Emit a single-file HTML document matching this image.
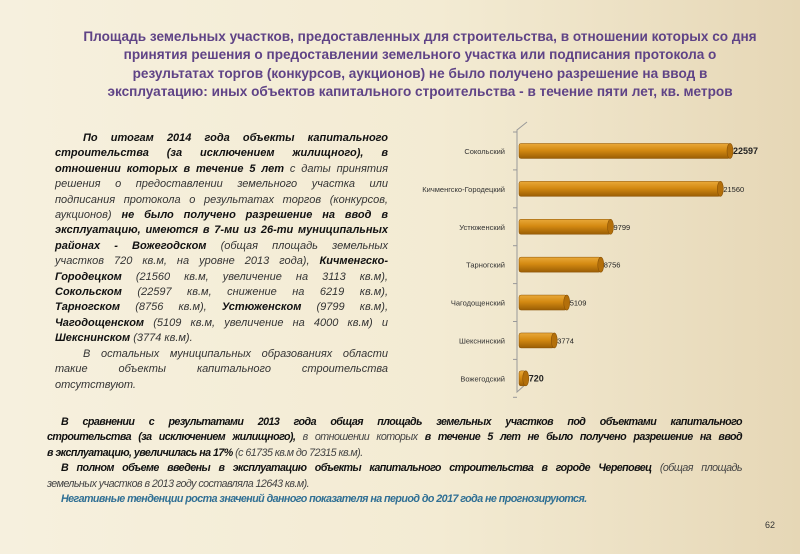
<!DOCTYPE html>
<html><head><meta charset="utf-8">
<style>
html,body{margin:0;padding:0}
body{width:800px;height:554px;overflow:hidden;position:relative;font-family:"Liberation Sans",sans-serif;
background:linear-gradient(90deg,#f6f0de 0%,#f3ebd3 55%,#e6d7b6 100%);}
.title{position:absolute;left:40px;top:28px;width:760px;text-align:center;color:#5f4386;font-weight:bold;font-size:13.6px;line-height:18.3px;letter-spacing:0px;white-space:nowrap}
.left{position:absolute;left:55px;top:131px;width:333px;font-size:11px;line-height:15.4px;font-style:italic;color:#333}
.left div,.bottom div{text-align:justify;text-align-last:justify;white-space:nowrap}
.left div.nl,.bottom div.nl{text-align-last:left}
.left b{color:#111}
.ind{padding-left:28px}
.bottom{position:absolute;left:47px;top:415px;width:695px;font-size:10.7px;line-height:15.4px;font-style:italic;color:#444;letter-spacing:-0.55px}
.bottom b{color:#111}
.neg{color:#2f6f94;font-weight:bold}
.page{position:absolute;left:765px;top:520px;font-size:9px;color:#333}
</style></head><body>
<div class="title">Площадь земельных участков, предоставленных для строительства, в отношении которых со дня<br>принятия решения о предоставлении земельного участка или подписания протокола о<br>результатах торгов (конкурсов, аукционов) не было получено разрешение на ввод в<br>эксплуатацию: иных объектов капитального строительства - в течение пяти лет, кв. метров</div>
<div class="left">
<div class="ind"><b>По итогам 2014 года объекты капитального</b></div>
<div><b>строительства (за исключением жилищного), в</b></div>
<div><b>отношении которых в течение 5 лет</b> с даты принятия</div>
<div>решения о предоставлении земельного участка или</div>
<div>подписания протокола о результатах торгов (конкурсов,</div>
<div>аукционов) <b>не было получено разрешение на ввод в</b></div>
<div><b>эксплуатацию, имеются в 7-ми из 26-ти муниципальных</b></div>
<div><b>районах - Вожегодском</b> (общая площадь земельных</div>
<div>участков 720 кв.м, на уровне 2013 года), <b>Кичменгско-</b></div>
<div><b>Городецком</b> (21560 кв.м, увеличение на 3113 кв.м),</div>
<div><b>Сокольском</b> (22597 кв.м, снижение на 6219 кв.м),</div>
<div><b>Тарногском</b> (8756 кв.м), <b>Устюженском</b> (9799 кв.м),</div>
<div><b>Чагодощенском</b> (5109 кв.м, увеличение на 4000 кв.м) и</div>
<div class="nl"><b>Шекснинском</b> (3774 кв.м).</div>
<div class="ind">В остальных муниципальных образованиях области</div>
<div>такие объекты капитального строительства</div>
<div class="nl">отсутствуют.</div>
</div>
<svg id="chart" style="position:absolute;left:0;top:0" width="800" height="554"></svg>
<div class="bottom">
<div class="ind" style="padding-left:14px"><b>В сравнении с результатами 2013 года общая площадь земельных участков под объектами капитального</b></div>
<div><b>строительства (за исключением жилищного),</b> в отношении которых <b>в течение 5 лет не было получено разрешение на ввод</b></div>
<div class="nl"><b>в эксплуатацию, увеличилась на 17%</b> (с 61735 кв.м до 72315 кв.м).</div>
<div style="padding-left:14px"><b>В полном объеме введены в эксплуатацию объекты капитального строительства в городе Череповец</b> (общая площадь</div>
<div class="nl">земельных участков в 2013 году составляла 12643 кв.м).</div>
<div class="nl" style="padding-left:14px"><span class="neg">Негативные тенденции роста значений данного показателя на период до 2017 года не прогнозируются.</span></div>
</div>
<div class="page">62</div>
<script>
const categories=["Сокольский","Кичменгско-Городецкий","Устюженский","Тарногский","Чагодощенский","Шекснинский","Вожегодский"];
const values=[22597,21560,9799,8756,5109,3774,720];
const bold=[true,false,false,false,false,false,true];
const svg=document.getElementById('chart');
const NS='http://www.w3.org/2000/svg';
const x0=519,xMax=22597,wMax=211;
const x=v=>x0+v/xMax*wMax;
const yTop=132,step=37.9;
const y=i=>yTop+step*i+step/2;
function mk(t,a){const e=document.createElementNS(NS,t);for(const k in a)e.setAttribute(k,a[k]);svg.appendChild(e);return e;}
const defs=mk('defs',{});
defs.innerHTML='<linearGradient id="bg" x1="0" y1="0" x2="0" y2="1"><stop offset="0" stop-color="#e9a93a"/><stop offset="0.45" stop-color="#d48a12"/><stop offset="1" stop-color="#9a5e05"/></linearGradient>';
const ax=mk('polyline',{points:"527,122 517,130 517,392 526,384",fill:"none",stroke:"#999","stroke-width":"1"});

for(let i=0;i<=categories.length;i++){const t=mk('line',{x1:513,x2:517,y1:yTop+step*i,y2:yTop+step*i,stroke:"#999"});
}
categories.forEach((c,i)=>{
 const cy=y(i),h=15,xe=x(values[i]);
 const b=mk('rect',{x:x0,y:cy-h/2,width:xe-x0,height:h,rx:2,fill:"url(#bg)",stroke:"#8a5206","stroke-width":"0.5"});
 
 const cap=mk('ellipse',{cx:xe,cy:cy,rx:3,ry:h/2,fill:"#b36f0a",stroke:"#8a5206","stroke-width":"0.6"});
 
 const l=mk('text',{x:505,y:cy+3,"text-anchor":"end","font-size":"7.5",fill:"#333","font-family":"Liberation Sans, sans-serif"});
 l.textContent=c;
 const v=mk('text',{x:xe+3,y:cy+3,"font-size":bold[i]?"9":"7.5","font-weight":bold[i]?"bold":"normal",fill:"#222","font-family":"Liberation Sans, sans-serif"});
 v.textContent=values[i];
});
</script>
</body></html>
